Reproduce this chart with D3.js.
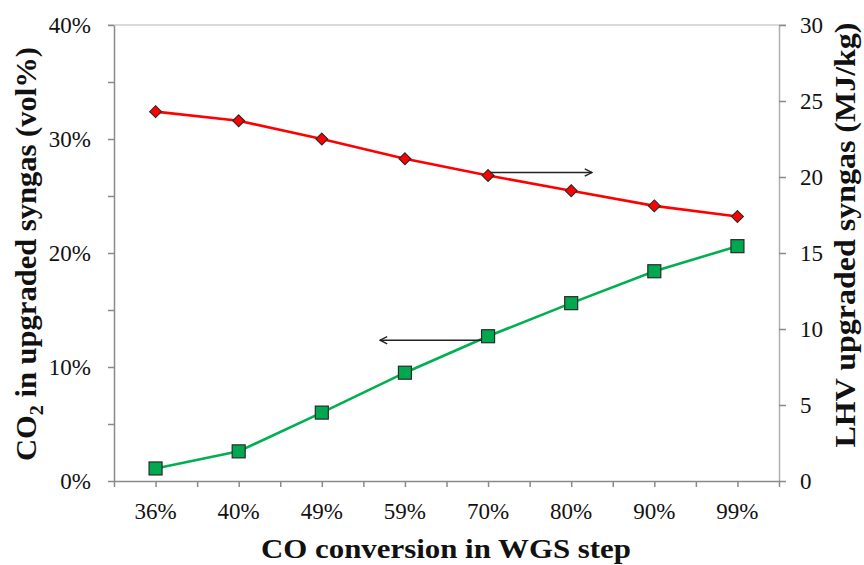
<!DOCTYPE html>
<html>
<head>
<meta charset="utf-8">
<script src="https://cdn.jsdelivr.net/npm/d3@7"></script>
<style>
  html, body { margin: 0; padding: 0; background: #fff; }
  svg { display: block; }
  text { font-family: "Liberation Serif", "Times New Roman", serif; fill: #111; }
</style>
</head>
<body>
<svg id="chart" width="864" height="565"></svg>
<script>
// CO conversion in the WGS step (x categories)
const categories = ["36%", "40%", "49%", "59%", "70%", "80%", "90%", "99%"];
// CO2 content of upgraded syngas, vol% (left axis)
const co2Values = [1.1, 2.6, 6.0, 9.5, 12.7, 15.6, 18.4, 20.6];
// LHV of upgraded syngas, MJ/kg (right axis)
const lhvValues = [24.3, 23.7, 22.5, 21.2, 20.1, 19.1, 18.1, 17.4];
// Axis tick values
const leftTicks = [0, 5, 10, 15, 20, 25, 30, 35, 40];
const leftLabels = [0, 10, 20, 30, 40];
const rightTicks = [0, 5, 10, 15, 20, 25, 30];

const svg = d3.select("#chart");
const m = { left: 114, right: 779, top: 25, bottom: 481 };
const axisColor = "#8a8a8a";

const x = d3.scaleBand().domain(categories).range([m.left, m.right]);
const xHalf = d3.scaleLinear().domain([0, categories.length]).range([m.left, m.right]);
const yL = d3.scaleLinear().domain([0, 40]).range([m.bottom, m.top]);
const yR = d3.scaleLinear().domain([0, 30]).range([m.bottom, m.top]);
const cx = c => x(c) + x.bandwidth() / 2;

// top line at 40%
svg.append("line")
  .attr("x1", m.left - 6).attr("x2", m.right + 7)
  .attr("y1", yL(40)).attr("y2", yL(40))
  .attr("stroke", "#b5b5b5").attr("stroke-width", 1.2);

function styleAxis(g) {
  g.select(".domain").attr("stroke", axisColor).attr("stroke-width", 1.5);
  g.selectAll(".tick line").attr("stroke", axisColor).attr("stroke-width", 1.5);
}

// left axis: ticks every 5%, labels every 10%
const gL = svg.append("g").attr("transform", `translate(${m.left},0)`)
  .call(d3.axisLeft(yL).tickValues(leftTicks).tickSize(6).tickSizeOuter(0)
    .tickFormat(d => leftLabels.includes(d) ? d + "%" : ""));
styleAxis(gL);
gL.selectAll(".tick text").attr("x", -23).attr("font-size", 23)
  .style("font-family", "Liberation Serif, serif").attr("fill", "#222");

// right axis
const gR = svg.append("g").attr("transform", `translate(${m.right},0)`)
  .call(d3.axisRight(yR).tickValues(rightTicks).tickSize(7).tickSizeOuter(0));
styleAxis(gR);
gR.select(".domain").attr("stroke", "#b0b0b0");
gR.selectAll(".tick text").attr("x", 21).attr("font-size", 23)
  .style("font-family", "Liberation Serif, serif").attr("fill", "#222");

// bottom axis: tick marks at every half category
const halfTicks = d3.range(0, categories.length * 2 + 1).map(i => i / 2);
const gB = svg.append("g").attr("transform", `translate(0,${m.bottom})`)
  .call(d3.axisBottom(xHalf).tickValues(halfTicks).tickSize(6).tickSizeOuter(0).tickFormat(""));
styleAxis(gB);
const gBL = svg.append("g").attr("transform", `translate(0,${m.bottom})`)
  .call(d3.axisBottom(x).tickSize(0));
gBL.select(".domain").remove();
gBL.selectAll(".tick text").attr("y", 22).attr("font-size", 23)
  .style("font-family", "Liberation Serif, serif").attr("fill", "#222");

// lines
const lineL = d3.line().x((d, i) => cx(categories[i])).y(d => yL(d));
const lineR = d3.line().x((d, i) => cx(categories[i])).y(d => yR(d));

svg.append("path").datum(lhvValues).attr("d", lineR)
  .attr("fill", "none").attr("stroke", "#ff0000").attr("stroke-width", 2.6);
svg.append("path").datum(co2Values).attr("d", lineL)
  .attr("fill", "none").attr("stroke", "#00b050").attr("stroke-width", 2.6);

// markers
svg.append("g").selectAll("path").data(lhvValues).join("path")
  .attr("d", d3.symbol(d3.symbolDiamond2, 90)())
  .attr("transform", (d, i) => `translate(${cx(categories[i])},${yR(d)})`)
  .attr("fill", "#ff0000").attr("stroke", "#2a2a2a").attr("stroke-width", 1.1);
svg.append("g").selectAll("rect").data(co2Values).join("rect")
  .attr("x", (d, i) => cx(categories[i]) - 6.5).attr("y", d => yL(d) - 6.5)
  .attr("width", 13).attr("height", 13)
  .attr("fill", "#00a84f").attr("stroke", "#2a2a2a").attr("stroke-width", 1.2);

// arrows pointing to the axis each series belongs to
const defs = svg.append("defs");
defs.append("marker").attr("id", "arrowhead")
  .attr("viewBox", "0 0 10 10").attr("refX", 9).attr("refY", 5)
  .attr("markerWidth", 9).attr("markerHeight", 9).attr("markerUnits", "userSpaceOnUse")
  .attr("orient", "auto")
  .append("path").attr("d", "M1,1 L9,5 L1,9")
  .attr("fill", "none").attr("stroke", "#222").attr("stroke-width", 1.5);

const iR = categories.indexOf("70%");
svg.append("line")
  .attr("x1", cx(categories[iR]) + 2).attr("y1", yR(lhvValues[iR]) - 3)
  .attr("x2", xHalf(5.75)).attr("y2", yR(lhvValues[iR]) - 3)
  .attr("stroke", "#222").attr("stroke-width", 1.6).attr("marker-end", "url(#arrowhead)");
svg.append("line")
  .attr("x1", cx(categories[iR]) - 7).attr("y1", yL(co2Values[iR]) + 4)
  .attr("x2", xHalf(3.2)).attr("y2", yL(co2Values[iR]) + 4)
  .attr("stroke", "#222").attr("stroke-width", 1.6).attr("marker-end", "url(#arrowhead)");

// axis titles
svg.append("text")
  .attr("x", 446).attr("y", 558).attr("text-anchor", "middle")
  .attr("font-size", 27).attr("font-weight", "bold")
  .attr("textLength", 370).attr("lengthAdjust", "spacingAndGlyphs")
  .text("CO conversion in WGS step");

const tL = svg.append("text")
  .attr("transform", "translate(36,254) rotate(-90)")
  .attr("text-anchor", "middle")
  .attr("font-size", 29).attr("font-weight", "bold")
  .attr("textLength", 414).attr("lengthAdjust", "spacingAndGlyphs");
tL.append("tspan").text("CO");
tL.append("tspan").attr("font-size", 19).attr("dy", 7).text("2");
tL.append("tspan").attr("dy", -7).text(" in upgraded syngas (vol%)");

svg.append("text")
  .attr("transform", "translate(855,235) rotate(-90)")
  .attr("text-anchor", "middle")
  .attr("font-size", 29).attr("font-weight", "bold")
  .attr("textLength", 425).attr("lengthAdjust", "spacingAndGlyphs")
  .text("LHV upgraded syngas (MJ/kg)");
</script>
</body>
</html>
